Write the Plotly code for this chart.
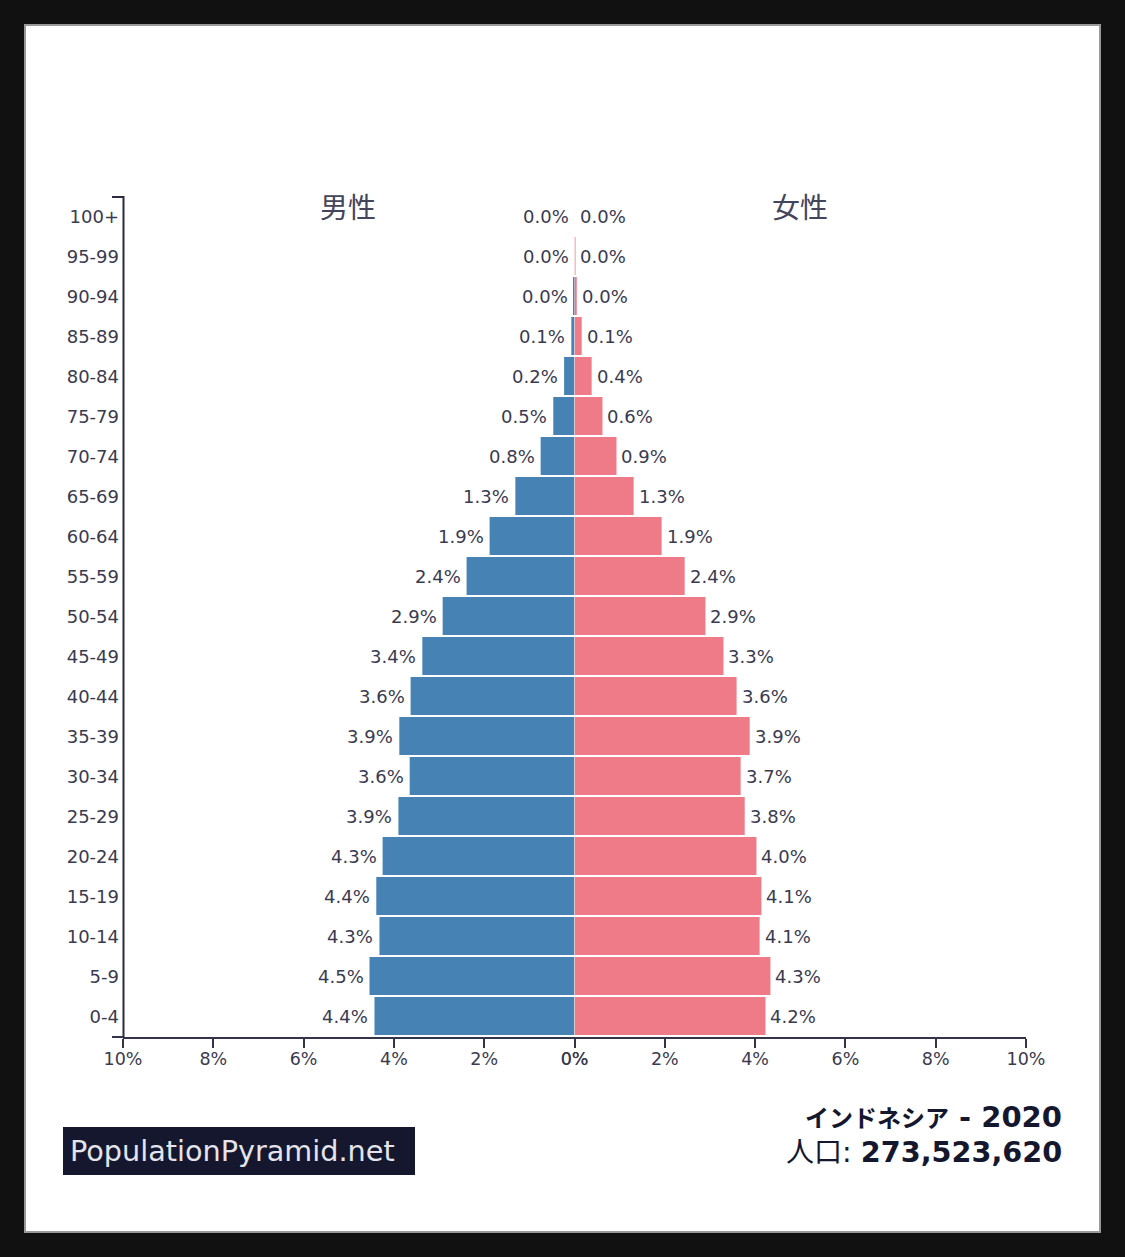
import plotly.graph_objects as go

# grupos de edad, de abajo hacia arriba
edades = ["0-4", "5-9", "10-14", "15-19", "20-24", "25-29", "30-34", "35-39", "40-44", "45-49",
          "50-54", "55-59", "60-64", "65-69", "70-74", "75-79", "80-84", "85-89", "90-94", "95-99", "100+"]
hombres = [4.43, 4.54, 4.32, 4.39, 4.25, 3.90, 3.65, 3.88, 3.63, 3.37,
           2.92, 2.39, 1.88, 1.31, 0.75, 0.47, 0.23, 0.07, 0.02, 0, 0]
mujeres = [4.23, 4.34, 4.10, 4.14, 4.03, 3.77, 3.68, 3.88, 3.59, 3.30,
           2.90, 2.44, 1.93, 1.31, 0.93, 0.62, 0.38, 0.16, 0.05, 0.01, 0]
etiquetas_h = ["4.4%", "4.5%", "4.3%", "4.4%", "4.3%", "3.9%", "3.6%", "3.9%", "3.6%", "3.4%",
               "2.9%", "2.4%", "1.9%", "1.3%", "0.8%", "0.5%", "0.2%", "0.1%", "0.0%", "0.0%", "0.0%"]
etiquetas_m = ["4.2%", "4.3%", "4.1%", "4.1%", "4.0%", "3.8%", "3.7%", "3.9%", "3.6%", "3.3%",
               "2.9%", "2.4%", "1.9%", "1.3%", "0.9%", "0.6%", "0.4%", "0.1%", "0.0%", "0.0%", "0.0%"]
ticks_x = [0, 2, 4, 6, 8, 10]
ticks_txt = ["0%", "2%", "4%", "6%", "8%", "10%"]

FUENTE = "DejaVu Sans, Noto Sans CJK JP"
TINTA = "#3a3a50"
OSCURO = "#15172f"
L, R, T, B = 123, 1026, 197, 1037


# pixeles de la pagina a coordenadas paper
def px(x):
    return (x - L) / (R - L)


def py(y):
    return (B - y) / (B - T)


fig = go.Figure()
fig.add_trace(go.Bar(y=edades, x=hombres, orientation="h", xaxis="x", yaxis="y",
                     marker=dict(color="#4682b4", line=dict(width=0)),
                     width=0.95, offset=-0.45))
fig.add_trace(go.Bar(y=edades, x=mujeres, orientation="h", xaxis="x2", yaxis="y",
                     marker=dict(color="#ef7a88", line=dict(width=0)),
                     width=0.95, offset=-0.45))

eje_x = dict(tickmode="array", tickvals=ticks_x, ticktext=ticks_txt, ticks="outside", ticklen=9, tickwidth=2,
             tickcolor="#33334a", showline=True, linecolor="#33334a", linewidth=2,
             showgrid=False, zeroline=False, anchor="y", ticklabelstandoff=-4,
             tickfont=dict(family=FUENTE, size=17.5, color=TINTA))

# etiquetas de porcentaje junto a cada barra
notas = []
for edad, v, t in zip(edades, hombres, etiquetas_h):
    notas.append(dict(text=t, xref="x", yref="y", x=v, y=edad, xanchor="right", yanchor="middle",
                      xshift=-4, yshift=1, showarrow=False, font=dict(family=FUENTE, size=18, color=TINTA)))
for edad, v, t in zip(edades, mujeres, etiquetas_m):
    notas.append(dict(text=t, xref="x2", yref="y", x=v, y=edad, xanchor="left", yanchor="middle",
                      xshift=3, yshift=1, showarrow=False, font=dict(family=FUENTE, size=18, color=TINTA)))

# textos fijos: sexos, logo y pais
notas += [
    dict(text="男性", xref="paper", yref="paper", x=px(348), y=py(209), xanchor="center", yanchor="middle",
         showarrow=False, font=dict(family=FUENTE, size=28, color="#44445a")),
    dict(text="女性", xref="paper", yref="paper", x=px(800), y=py(209), xanchor="center", yanchor="middle",
         showarrow=False, font=dict(family=FUENTE, size=28, color="#44445a")),
    dict(text="PopulationPyramid.net", xref="paper", yref="paper", x=px(68), y=py(1151),
         xanchor="left", yanchor="middle", showarrow=False,
         font=dict(family=FUENTE, size=28.7, color="#e4e4ec")),
    dict(text='<b><span style="font-size:24px">インドネシア</span> - 2020</b>', xref="paper", yref="paper",
         x=px(1064), y=py(1117), xanchor="right", yanchor="middle", showarrow=False,
         font=dict(family=FUENTE, size=29, color=OSCURO)),
    dict(text='<span style="font-size:28px">人口</span>: <b>273,523,620</b>', xref="paper", yref="paper",
         x=px(1064), y=py(1152), xanchor="right", yanchor="middle", showarrow=False,
         font=dict(family=FUENTE, size=28.7, color=OSCURO)),
]

fig.update_layout(
    width=1125, height=1257, autosize=False,
    margin=dict(l=L, r=1125 - R, t=T, b=1257 - B),
    paper_bgcolor="#111111", plot_bgcolor="rgba(0,0,0,0)",
    showlegend=False, barmode="overlay",
    xaxis=dict(domain=[0, 0.5], range=[10, 0], **eje_x),
    xaxis2=dict(domain=[0.5, 1], range=[0, 10], **eje_x),
    yaxis=dict(type="category", categoryorder="array", categoryarray=edades, range=[-0.5, 20.5],
               showline=False, showgrid=False, zeroline=False,
               ticks="", ticklabelstandoff=3, anchor="x",
               tickfont=dict(family=FUENTE, size=18, color=TINTA)),
    shapes=[
        # hoja blanca sobre el fondo negro
        dict(type="rect", xref="paper", yref="paper", x0=px(25), x1=px(1100), y0=py(25), y1=py(1232),
             fillcolor="white", line=dict(color="#999999", width=2), layer="below"),
        # eje y con sus marcas de los extremos
        dict(type="line", xref="paper", yref="paper", x0=px(123.5), x1=px(123.5), y0=py(196), y1=py(1037),
             line=dict(color="#2a2a40", width=2)),
        dict(type="line", xref="paper", yref="paper", x0=px(112), x1=px(123), y0=py(197), y1=py(197),
             line=dict(color="#2a2a40", width=2)),
        dict(type="line", xref="paper", yref="paper", x0=px(112), x1=px(123), y0=py(1037), y1=py(1037),
             line=dict(color="#33334a", width=2)),
        # logo
        dict(type="rect", xref="paper", yref="paper", x0=px(63), x1=px(415), y0=py(1127), y1=py(1175),
             fillcolor=OSCURO, line=dict(width=0)),
    ],
    annotations=notas,
)

fig.write_html("out.html", config={"displayModeBar": False},
               post_script="document.body.style.margin='0';document.body.style.background='#111';")
